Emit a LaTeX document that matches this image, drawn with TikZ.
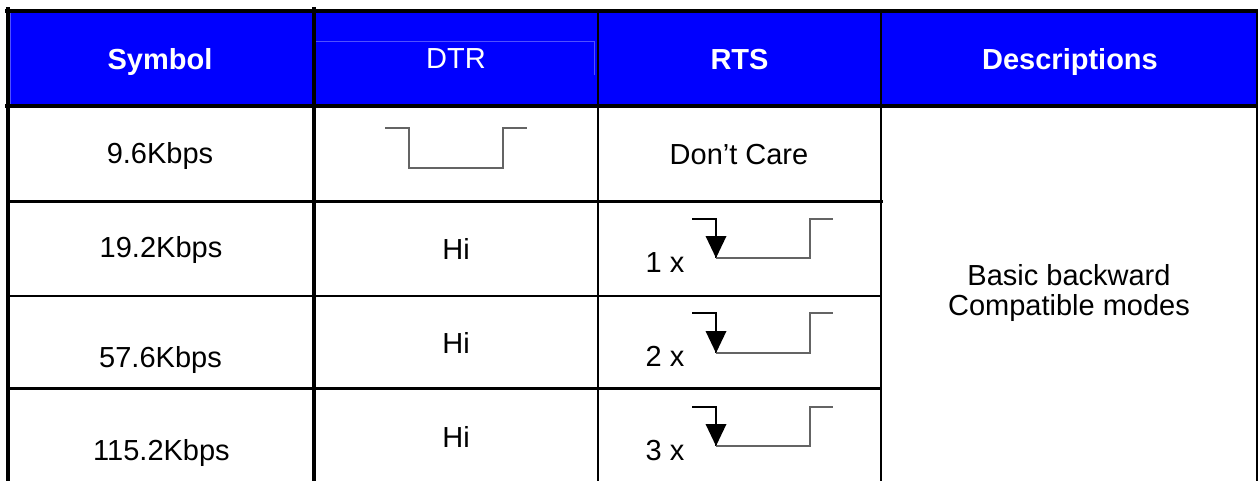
\documentclass[tikz,border=0pt]{standalone}
\usepackage{fontspec}
\setmainfont{Liberation Sans}
\definecolor{hdrblue}{RGB}{0,0,255}
\definecolor{hdredge}{RGB}{80,80,255}
\definecolor{wave}{RGB}{100,100,100}
\begin{document}
\begin{tikzpicture}[x=1pt,y=-1pt,
  txt/.style={anchor=base,inner sep=0pt,font=\fontsize{29}{34}\selectfont},
  hdr/.style={txt,text=white,font=\fontsize{29}{34}\selectfont\bfseries},
  hdrplain/.style={txt,text=white},
  grid/.style={black,line cap=rect},
  wavel/.style={wave,line width=1.4pt},
  wavek/.style={black,line width=1.3pt}]
\useasboundingbox (0,0) rectangle (1258,481);
% header fill
\fill[hdrblue] (8,11) rectangle (1257,106);
\draw[hdredge,line width=0.8pt] (10,11) -- (10,104.3) -- (1256,104.3);
\draw[hdredge,line width=0.6pt] (316,41) -- (594,41) -- (594,75);
% header texts
\node[hdr] (hsym) at (160,70) {Symbol};
\node[hdrplain] (hdtr) at (456,69) {DTR};
\node[hdr] (hrts) at (739.5,70) {RTS};
\node[hdr] (hdesc) at (1070,70) {Descriptions};
% grid lines
\draw[grid,line width=3.7pt] (6.5,11) -- (1258,11);
\draw[grid,line width=3.7pt] (8.3,9.2) -- (8.3,481);
\draw[grid,line width=1.2pt] (1257,9.2) -- (1257,481);
\draw[grid,line width=4pt] (6.5,106.3) -- (1258,106.3);
\draw[grid,line width=4pt] (314,9.2) -- (314,481);
\draw[grid,line width=2.3pt] (597.8,11) -- (597.8,481);
\draw[grid,line width=2.3pt] (881,11) -- (881,481);
\draw[grid,line width=3pt] (8,201.6) -- (881,201.6);
\draw[grid,line width=2.7pt] (8,296) -- (881,296);
\draw[grid,line width=2.7pt] (8,388.7) -- (881,388.7);
% column 1
\node[txt] (s1) at (160,164) {9.6Kbps};
\node[txt] (s2) at (161,258) {19.2Kbps};
\node[txt] (s3) at (160.5,367) {57.6Kbps};
\node[txt] (s4) at (161.5,460) {115.2Kbps};
% DTR column
\draw[wavel] (385,128) -- (409,128) -- (409,168) -- (503,168) -- (503,128) -- (527,128);
\node[txt] (d2) at (456,259) {Hi};
\node[txt] (d3) at (456,353) {Hi};
\node[txt] (d4) at (456,447) {Hi};
% RTS column
\node[txt] (r1) at (739,165) {Don’t Care};
\node[txt] (r2) at (665,272) {1 x};
\node[txt] (r3) at (665,366) {2 x};
\node[txt] (r4) at (665,460) {3 x};
\foreach \t/\b in {219/258,313/353,407/446}{
  \draw[wavek] (692,\t) -- (716,\t) -- (716,\b);
  \draw[wavel] (716,\b) -- (810,\b) -- (810,\t) -- (833,\t);
  \fill[black] (716,\b) -- (705.5,\b-22) -- (726.5,\b-22) -- cycle;
}
% description
\node[txt] (desc1) at (1069,285) {Basic backward};
\node[txt] (desc2) at (1069,315) {Compatible modes};
\end{tikzpicture}
\end{document}
